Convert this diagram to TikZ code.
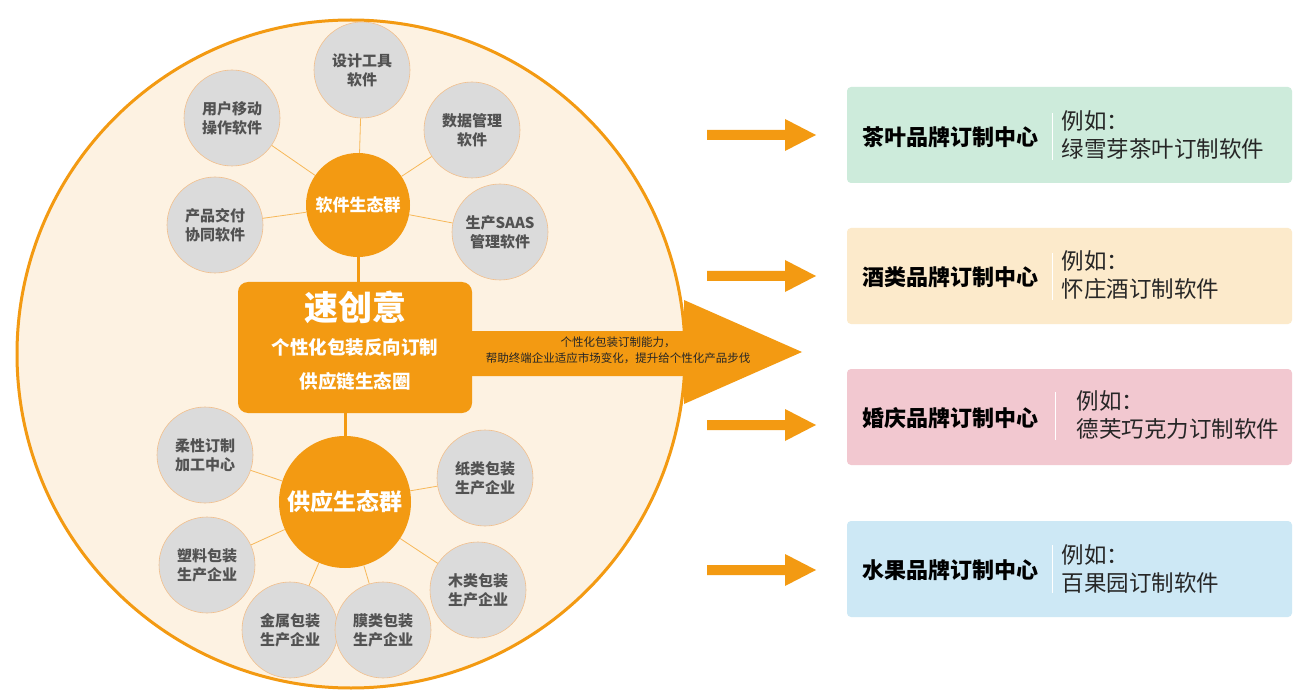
\documentclass[tikz,border=0pt]{standalone}
\usepackage{fontspec}
\setmainfont{Noto Sans CJK SC}
\definecolor{orn}{HTML}{F39A12}
\definecolor{cream}{HTML}{FDF2E2}
\definecolor{g1}{HTML}{CDEBDB}
\definecolor{g2}{HTML}{FCEACB}
\definecolor{g3}{HTML}{F2C8D0}
\definecolor{g4}{HTML}{CDE8F5}
\begin{document}
\begin{tikzpicture}[x=1pt,y=-1pt,
  gc/.style={circle,draw=orange!60!brown!50,line width=0.6pt,fill=gray!28,minimum size=96pt,inner sep=0pt,align=center,font=\fontsize{15}{19}\selectfont\bfseries,text=black!68},
  hub/.style={circle,fill=orn,inner sep=0pt,align=center,text=white,font=\bfseries},
  lk/.style={draw=orn!70,line width=0.8pt},
  rb/.style={rounded corners=4pt,minimum width=445pt,minimum height=96pt,inner sep=0pt},
  ttl/.style={font=\fontsize{22}{26}\selectfont\bfseries,anchor=center},
  ex/.style={font=\fontsize{22.5}{28}\selectfont,align=left,anchor=west,text=black!85}]
\useasboundingbox (0,0) rectangle (1307,695);
\fill[white] (0,0) rectangle (1307,695);
% big circle
\node[circle,draw=orn,line width=3pt,fill=cream,minimum size=668pt,inner sep=0pt] (big) at (351,354) {};
% main arrow
\fill[orn] (460,331) -- (684,331) -- (684,300) -- (802,352) -- (684,404) -- (684,376) -- (460,376) -- cycle;
\node[font=\fontsize{11.5}{16}\selectfont,align=center,text=black!85] (atext) at (618,350) {个性化包装订制能力，\\帮助终端企业适应市场变化，提升给个性化产品步伐};
% center box
\node[fill=orn,rounded corners=10pt,minimum width=234pt,minimum height=131pt,inner sep=0pt] (box) at (355,347.5) {};
\node[text=white,font=\fontsize{34}{38}\selectfont\bfseries] (t1) at (355,307) {速创意};
\node[text=white,font=\fontsize{18.5}{22}\selectfont\bfseries] (t2) at (355,347) {个性化包装反向订制};
\node[text=white,font=\fontsize{18.5}{22}\selectfont\bfseries] (t3) at (355,381) {供应链生态圈};
% top hub
\node[hub,minimum size=104pt,font=\fontsize{17}{20}\selectfont\bfseries] (h1) at (358,205) {软件生态群};
\node[gc] (a1) at (362,70) {设计工具\\软件};
\node[gc] (a2) at (232,118) {用户移动\\操作软件};
\node[gc] (a3) at (472,130) {数据管理\\软件};
\node[gc] (a4) at (215,225) {产品交付\\协同软件};
\node[gc] (a5) at (500,232) {生产SAAS\\管理软件};
\draw[lk] (h1) -- (a1); \draw[lk] (h1) -- (a2); \draw[lk] (h1) -- (a3);
\draw[lk] (h1) -- (a4); \draw[lk] (h1) -- (a5);
\draw[draw=orn,line width=3pt] (h1.south) -- (box.north -| h1);
% bottom hub
\node[hub,minimum size=132pt,font=\fontsize{23}{26}\selectfont\bfseries] (h2) at (345,502) {供应生态群};
\draw[draw=orn,line width=3pt] (box.south -| h2) -- (h2.north);
\node[gc] (b1) at (205,455) {柔性订制\\加工中心};
\node[gc] (b2) at (485,478) {纸类包装\\生产企业};
\node[gc] (b3) at (207,565) {塑料包装\\生产企业};
\node[gc] (b4) at (478,590) {木类包装\\生产企业};
\node[gc] (b5) at (290,630) {金属包装\\生产企业};
\node[gc] (b6) at (383,630) {膜类包装\\生产企业};
\foreach \b in {b1,b2,b3,b4,b5,b6} \draw[lk] (h2) -- (\b);
% right boxes
\node[rb,fill=g1] (r1) at (1069.5,135) {};
\node[rb,fill=g2] (r2) at (1069.5,276) {};
\node[rb,fill=g3] (r3) at (1069.5,417) {};
\node[rb,fill=g4] (r4) at (1069.5,569) {};
\foreach \y in {135,276,425,570}{
  \fill[orn] (707,\y-5) -- (785,\y-5) -- (785,\y-16) -- (816,\y) -- (785,\y+16) -- (785,\y+5) -- (707,\y+5) -- cycle;
}
\node[ttl] (n1) at (950,137) {茶叶品牌订制中心};
\node[ttl] (n2) at (950,277) {酒类品牌订制中心};
\node[ttl] (n3) at (950,418) {婚庆品牌订制中心};
\node[ttl] (n4) at (950,570) {水果品牌订制中心};
\draw[white,line width=1pt] (1052,113) -- (1052,160);
\draw[white,line width=1pt] (1052,253) -- (1052,300);
\draw[white,line width=1pt] (1055,392) -- (1055,440);
\draw[white,line width=1pt] (1052,545) -- (1052,593);
\node[ex] (e1) at (1058,135) {例如：\\绿雪芽茶叶订制软件};
\node[ex] (e2) at (1058,275) {例如：\\怀庄酒订制软件};
\node[ex] (e3) at (1073,415) {例如：\\德芙巧克力订制软件};
\node[ex] (e4) at (1058,569) {例如：\\百果园订制软件};
\end{tikzpicture}
\end{document}
